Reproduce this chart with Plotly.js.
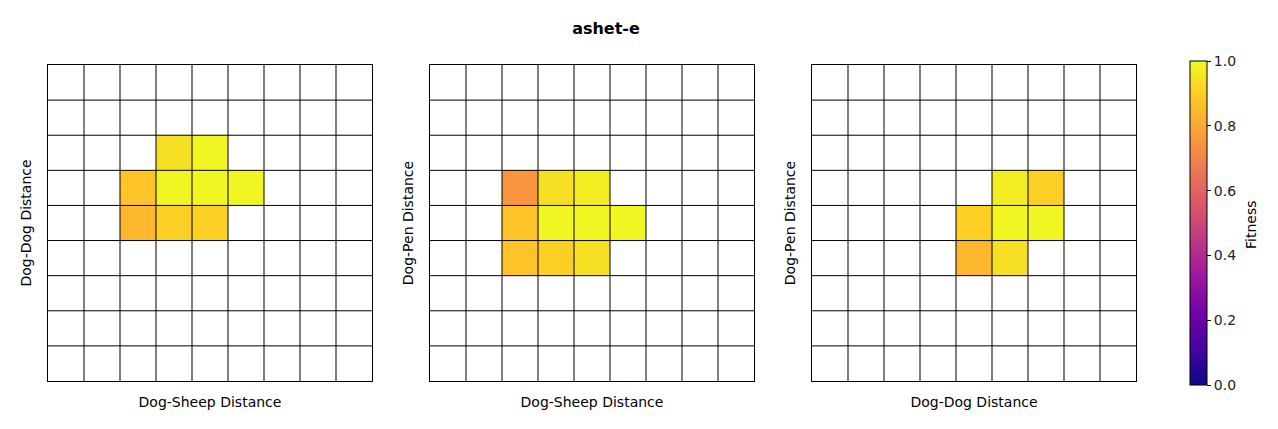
<!DOCTYPE html>
<html>
<head>
<meta charset="utf-8">
<script src="https://cdn.plot.ly/plotly-3.0.1.min.js"></script>
<style>html,body{margin:0;padding:0;background:#fff;}#chart{width:1278px;height:429px;}</style>
</head>
<body>
<div id="chart"></div>
<script>
// 9x9 grids, row 0 = top row, null = no data (white)
const gridSize = 9;
const chartTitle = "ashet-e";
const xTitles = ["Dog-Sheep Distance", "Dog-Sheep Distance", "Dog-Dog Distance"];
const yTitles = ["Dog-Dog Distance", "Dog-Pen Distance", "Dog-Pen Distance"];
const colorbarTitle = "Fitness";
const colorbarTicks = [0.0, 0.2, 0.4, 0.6, 0.8, 1.0];
const plasmaColors = ['#0d0887', '#46039f', '#7201a8', '#9c179e', '#bd3786', '#d8576b', '#ed7953', '#fb9f3a', '#fdca26', '#f0f921'];

const N = null;
const fitness1 = [
  [N,N,N,N,N,N,N,N,N],
  [N,N,N,N,N,N,N,N,N],
  [N,N,N,0.94,0.99,N,N,N,N],
  [N,N,0.87,0.99,0.99,0.99,N,N,N],
  [N,N,0.84,0.90,0.90,N,N,N,N],
  [N,N,N,N,N,N,N,N,N],
  [N,N,N,N,N,N,N,N,N],
  [N,N,N,N,N,N,N,N,N],
  [N,N,N,N,N,N,N,N,N]
];
const fitness2 = [
  [N,N,N,N,N,N,N,N,N],
  [N,N,N,N,N,N,N,N,N],
  [N,N,N,N,N,N,N,N,N],
  [N,N,0.75,0.94,0.97,N,N,N,N],
  [N,N,0.87,0.99,0.99,0.99,N,N,N],
  [N,N,0.87,0.90,0.94,N,N,N,N],
  [N,N,N,N,N,N,N,N,N],
  [N,N,N,N,N,N,N,N,N],
  [N,N,N,N,N,N,N,N,N]
];
const fitness3 = [
  [N,N,N,N,N,N,N,N,N],
  [N,N,N,N,N,N,N,N,N],
  [N,N,N,N,N,N,N,N,N],
  [N,N,N,N,N,0.97,0.90,N,N],
  [N,N,N,N,0.90,0.99,0.99,N,N],
  [N,N,N,N,0.84,0.94,N,N,N],
  [N,N,N,N,N,N,N,N,N],
  [N,N,N,N,N,N,N,N,N],
  [N,N,N,N,N,N,N,N,N]
];
const panels = [fitness1, fitness2, fitness3];

const W = 1278, H = 429;
const xDomPx = [[48, 372], [430, 754], [812, 1136]];
const yDomPx = [65, 381];
const font = "DejaVu Sans, sans-serif";
const plasma = plasmaColors.map((c, i) => [i / (plasmaColors.length - 1), c]);

// grid lines as a scatter trace
function gridLines() {
  const xs = [], ys = [];
  for (let k = 1; k < gridSize; k++) {
    xs.push(k - 0.5, k - 0.5, null); ys.push(-0.5, gridSize - 0.5, null);
    xs.push(-0.5, gridSize - 0.5, null); ys.push(k - 0.5, k - 0.5, null);
  }
  return {xs, ys};
}
const g = gridLines();
const idx = Array.from({length: gridSize}, (_, i) => i);

const data = [];
const layout = {
  width: W, height: H,
  margin: {l: 0, r: 0, t: 0, b: 0},
  paper_bgcolor: "#fff", plot_bgcolor: "#fff",
  showlegend: false,
  font: {family: font, size: 14, color: "#000"},
  title: {text: "<b>" + chartTitle + "</b>", x: 606 / W, xanchor: "center", y: 1 - 28 / H, yanchor: "middle",
          font: {family: font, size: 16, color: "#000"}},
  annotations: [{
    text: colorbarTitle, xref: "paper", yref: "paper", x: 1251 / W, y: 1 - 225 / H,
    xanchor: "center", yanchor: "middle", textangle: -90, showarrow: false,
    font: {family: font, size: 14, color: "#000"}
  }]
};

panels.forEach((z, i) => {
  const sfx = i === 0 ? "" : String(i + 1);
  data.push({
    type: "heatmap", z: z, x: idx, y: idx,
    xaxis: "x" + sfx, yaxis: "y" + sfx,
    colorscale: plasma, zmin: 0, zmax: 1,
    showscale: i === 0,
    hoverongaps: false,
    colorbar: {
      x: 1190 / W, xanchor: "left", xpad: 0, ypad: 0, thickness: 17, thicknessmode: "pixels",
      len: 324, lenmode: "pixels", y: 1 - 223 / H, yanchor: "middle",
      outlinewidth: 1, outlinecolor: "#000",
      tickmode: "array", tickvals: colorbarTicks, tickformat: ".1f",
      ticks: "outside", ticklen: 4, tickcolor: "#000",
      tickfont: {family: font, size: 14, color: "#222"}
    }
  });
  data.push({
    type: "scatter", mode: "lines", x: g.xs, y: g.ys,
    xaxis: "x" + sfx, yaxis: "y" + sfx,
    line: {color: "#000", width: 1}, hoverinfo: "skip"
  });
  layout["xaxis" + sfx] = {
    domain: [xDomPx[i][0] / W, xDomPx[i][1] / W],
    range: [-0.5, gridSize - 0.5], showticklabels: false, ticks: "", showgrid: false, zeroline: false,
    showline: true, mirror: true, linecolor: "#000", linewidth: 1,
    anchor: "y" + sfx,
    title: {text: xTitles[i], standoff: 16, font: {family: font, size: 14, color: "#000"}}
  };
  layout["yaxis" + sfx] = {
    domain: [1 - yDomPx[1] / H, 1 - yDomPx[0] / H],
    range: [gridSize - 0.5, -0.5], showticklabels: false, ticks: "", showgrid: false, zeroline: false,
    showline: true, mirror: true, linecolor: "#000", linewidth: 1,
    anchor: "x" + sfx,
    title: {text: yTitles[i], standoff: 12, font: {family: font, size: 14, color: "#000"}}
  };
});

Plotly.newPlot("chart", data, layout, {displayModeBar: false, staticPlot: true});
</script>
</body>
</html>
